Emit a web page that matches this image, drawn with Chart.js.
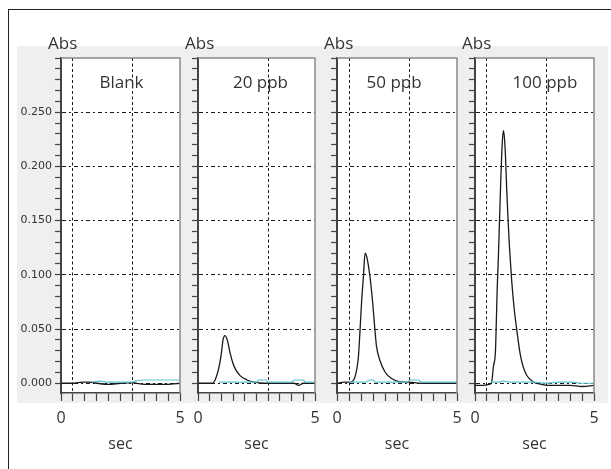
<!DOCTYPE html>
<html><head><meta charset="utf-8">
<script src="https://cdn.jsdelivr.net/npm/chart.js@4.4.1/dist/chart.umd.min.js"></script>
<style>
html,body{margin:0;padding:0;background:#fff;}
body{width:611px;height:469px;position:relative;overflow:hidden;}
#frameTop{position:absolute;left:8px;top:9px;width:603px;height:0;border-top:1.5px solid #222;}
#frameLeft{position:absolute;left:8px;top:9px;width:0;height:460px;border-left:1.5px solid #222;}
#panelBg{position:absolute;left:17px;top:46px;width:591px;height:357px;background:#efefef;}
canvas{position:absolute;}
</style></head><body>
<div id="frameTop"></div><div id="frameLeft"></div><div id="panelBg"></div>
<canvas id="c0"></canvas><canvas id="c1"></canvas><canvas id="c2"></canvas><canvas id="c3"></canvas>
<script>
// ---- data ----
const panelNames = ['Blank', '20 ppb', '50 ppb', '100 ppb'];
const xLabelValues = [0, 5];
const yLabelValues = [0, 0.05, 0.10, 0.15, 0.20, 0.25];

const blankTime = [0, 0.5, 0.9, 1.2, 1.5, 2.0, 2.5, 3.0, 3.5, 4.0, 4.5, 5.0];
const blankAbs  = [0, 0, 0.001, 0.001, 0, -0.001, 0, 0.0005, -0.001, -0.001, -0.001, 0];
const blankBgTime = [1.3, 1.6, 2.0, 2.5, 3.0, 3.1, 3.5, 4.0, 4.5, 5.0];
const blankBg     = [0.001, 0.002, 0.001, 0.001, 0.001, 0.002, 0.003, 0.003, 0.003, 0.003];

const ppb20Time = [0, 0.6, 0.75, 0.9, 1.0, 1.07, 1.15, 1.25, 1.37, 1.5, 1.6, 1.8, 2.1, 2.4, 2.8, 3.5, 4.1, 4.3, 4.5, 5.0];
const ppb20Abs  = [0, 0, 0.004, 0.015, 0.028, 0.04, 0.044, 0.04, 0.028, 0.018, 0.013, 0.007, 0.003, 0.001, 0, 0, 0, -0.002, 0, 0];
const ppb20BgTime = [0.9, 1.5, 2.5, 2.6, 2.9, 3.0, 4.0, 4.1, 4.5, 4.6, 5.0];
const ppb20Bg     = [0.001, 0.001, 0.001, 0.003, 0.003, 0.001, 0.001, 0.003, 0.003, 0.001, 0.001];

const ppb50Time = [0, 0.3, 0.54, 0.75, 0.89, 0.96, 1.03, 1.1, 1.17, 1.24, 1.375, 1.49, 1.58, 1.65, 1.79, 2.0, 2.28, 2.62, 3.0, 3.5, 4.0, 4.5, 5.0];
const ppb50Abs  = [0, 0.001, 0.001, 0.006, 0.024, 0.049, 0.077, 0.098, 0.12, 0.1165, 0.098, 0.0735, 0.049, 0.0335, 0.021, 0.0104, 0.0043, 0.0012, 0.001, 0, 0, 0, 0];
const ppb50BgTime = [0.5, 1.2, 1.35, 1.5, 1.6, 2.9, 3.05, 3.4, 3.5, 5.0];
const ppb50Bg     = [0.001, 0.001, 0.003, 0.003, 0.001, 0.001, 0.003, 0.003, 0.001, 0.001];

const ppb100Time = [0, 0.3, 0.6, 0.7, 0.77, 0.86, 0.9, 0.93, 0.98, 1.03, 1.08, 1.13, 1.19, 1.23, 1.28, 1.33, 1.38, 1.45, 1.54, 1.65, 1.8, 1.89, 2.0, 2.17, 2.45, 2.8, 3.0, 3.5, 4.0, 4.5, 5.0];
const ppb100Abs  = [-0.002, -0.002, -0.001, 0.001, 0.015, 0.03, 0.06, 0.085, 0.115, 0.15, 0.185, 0.215, 0.233, 0.228, 0.21, 0.18, 0.155, 0.125, 0.095, 0.068, 0.042, 0.028, 0.017, 0.0074, 0.0012, -0.001, -0.002, -0.002, -0.002, -0.003, -0.002];
const ppb100BgTime = [0.65, 1.0, 1.2, 1.5, 2.5, 3.0, 3.5, 4.0, 4.5, 5.0];
const ppb100Bg     = [0.001, 0.001, 0.002, 0.001, 0.001, 0.0, 0.001, 0.001, 0.0, 0.0];

// ---- layout of the four panels ----
const panels = [
  {name: panelNames[0], t: blankTime, a: blankAbs, bt: blankBgTime, b: blankBg, left: 61, right: 180, yW: 44, vGrid: [0.5, 3], nameX: 2.54, showY: true},
  {name: panelNames[1], t: ppb20Time, a: ppb20Abs, bt: ppb20BgTime, b: ppb20Bg, left: 198, right: 315, yW: 18, vGrid: [3], nameX: 2.67, showY: false},
  {name: panelNames[2], t: ppb50Time, a: ppb50Abs, bt: ppb50BgTime, b: ppb50Bg, left: 337, right: 457, yW: 18, vGrid: [0.5, 3], nameX: 2.38, showY: false},
  {name: panelNames[3], t: ppb100Time, a: ppb100Abs, bt: ppb100BgTime, b: ppb100Bg, left: 475, right: 594, yW: 18, vGrid: [0.5, 3], nameX: 2.94, showY: false}
];
const CANVAS_TOP = 28, PLOT_TOP = 58, PLOT_BOTTOM = 393, PAGE_BOTTOM = 469, PAD_RIGHT = 10;

const toPoints = (ts, vs) => ts.map((t, i) => ({x: t, y: vs[i]}));
const isYMajor = v => yLabelValues.some(l => Math.abs(l - v) < 1e-6);

const panelDecor = {
  id: 'panelDecor',
  beforeDraw(chart) {
    const {ctx, chartArea: a} = chart;
    ctx.save();
    ctx.fillStyle = '#ffffff';
    ctx.fillRect(a.left, a.top, a.right - a.left, a.bottom - a.top);
    ctx.restore();
  },
  afterDraw(chart, args, opts) {
    const {ctx, chartArea: a} = chart;
    ctx.save();
    ctx.strokeStyle = '#8a8a8a';
    ctx.lineWidth = 1.5;
    ctx.beginPath();
    ctx.moveTo(a.left, a.top); ctx.lineTo(a.right, a.top); ctx.lineTo(a.right, a.bottom);
    ctx.stroke();
    ctx.fillStyle = '#333';
    ctx.font = '17px "Open Sans"';
    ctx.textBaseline = 'alphabetic';
    ctx.textAlign = 'left';
    ctx.fillText('Abs', a.left - 13, a.top - 9);
    ctx.textAlign = 'center';
    ctx.fillText(opts.name, chart.scales.x.getPixelForValue(opts.nameX), a.top + 30);
    ctx.restore();
  }
};

function build() {
  panels.forEach((p, i) => {
    const cv = document.getElementById('c' + i);
    const left = p.left - p.yW;
    const width = p.yW + (p.right - p.left) + PAD_RIGHT;
    const height = PAGE_BOTTOM - CANVAS_TOP;
    cv.width = width; cv.height = height;
    cv.style.left = left + 'px'; cv.style.top = CANVAS_TOP + 'px';
    cv.style.width = width + 'px'; cv.style.height = height + 'px';
    new Chart(cv, {
      type: 'line',
      data: {
        datasets: [
          {data: toPoints(p.bt, p.b), borderColor: '#5cc2cb', borderWidth: 1.2, pointRadius: 0, cubicInterpolationMode: 'monotone', fill: false},
          {data: toPoints(p.t, p.a), borderColor: '#1a1a1a', borderWidth: 1.3, pointRadius: 0, cubicInterpolationMode: 'monotone', fill: false}
        ]
      },
      options: {
        responsive: false, animation: false, devicePixelRatio: 1,
        layout: {padding: {left: 0, top: PLOT_TOP - CANVAS_TOP, right: PAD_RIGHT, bottom: 0}},
        plugins: {legend: {display: false}, tooltip: {enabled: false}, title: {display: false},
                  panelDecor: {name: p.name, nameX: p.nameX}},
        scales: {
          x: {
            type: 'linear', min: 0, max: 5,
            ticks: {stepSize: 0.5, autoSkip: false, maxRotation: 0, minRotation: 0, padding: 8,
                    font: {family: 'Open Sans', size: 16}, color: '#333',
                    callback: v => xLabelValues.includes(v) ? String(v) : ''},
            grid: {color: c => (c.tick && p.vGrid.includes(c.tick.value)) ? '#1a1a1a' : 'rgba(0,0,0,0)',
                   lineWidth: 1, tickLength: 8, tickColor: '#444', tickWidth: 1.2},
            border: {display: true, color: '#444', width: 1.5, dash: [3, 2.5]},
            title: {display: true, text: 'sec', font: {family: 'Open Sans', size: 16}, color: '#333',
                    padding: {top: 0, bottom: 15}},
            afterFit: s => { s.height = PAGE_BOTTOM - PLOT_BOTTOM; s.paddingLeft = 0; s.paddingRight = 0; }
          },
          y: {
            min: -0.009, max: 0.30,
            ticks: {stepSize: 0.01, autoSkip: false, includeBounds: false, display: p.showY, padding: 3,
                    font: {family: 'DejaVu Sans', size: 11}, color: '#333',
                    callback: v => isYMajor(v) ? v.toFixed(3) : ''},
            grid: {color: c => (c.tick && isYMajor(c.tick.value)) ? '#1a1a1a' : 'rgba(0,0,0,0)',
                   lineWidth: 1, tickLength: 6, tickColor: '#444', tickWidth: 1.2},
            border: {display: true, color: '#444', width: 2, dash: [4, 3, 2, 3]},
            afterFit: s => { s.width = p.yW; s.paddingTop = 0; s.paddingBottom = 0; }
          }
        }
      },
      plugins: [panelDecor]
    });
  });
}

const fontsReady = (document.fonts && document.fonts.load)
  ? Promise.all([document.fonts.load('17px "Open Sans"'), document.fonts.load('11px "DejaVu Sans"')]).catch(() => null)
  : Promise.resolve();
fontsReady.then(build, build);
</script>
</body></html>
